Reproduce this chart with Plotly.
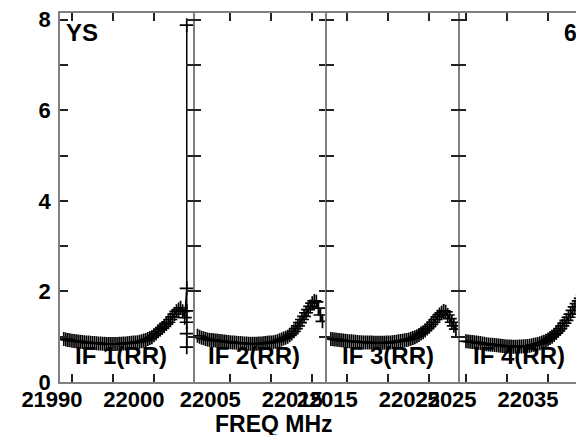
import plotly.graph_objects as go

# channel grid per IF (MHz): first channel frequency, channel spacing
IF_NAMES = ["IF 1(RR)", "IF 2(RR)", "IF 3(RR)", "IF 4(RR)"]
IF_FIRST_FREQ = [21989.0, 22001.0, 22013.0, 22025.0]
CHAN_WIDTH = 0.25

IF1_AMP = [
    0.95, 0.94, 0.93, 0.92, 0.91, 0.905, 0.90, 0.895, 0.89, 0.885,
    0.88, 0.875, 0.87, 0.865, 0.86, 0.86, 0.855, 0.85, 0.85, 0.845,
    0.845, 0.84, 0.84, 0.84, 0.84, 0.84, 0.84, 0.845, 0.845, 0.85,
    0.85, 0.855, 0.86, 0.865, 0.87, 0.875, 0.88, 0.89, 0.90, 0.915,
    0.93, 0.95, 0.97, 0.99, 1.03, 1.07, 1.12, 1.16, 1.19, 1.23,
    1.28, 1.32, 1.38, 1.44, 1.50, 1.56, 1.60, 1.64, 1.56, 1.42,
]
# noisy edge channel of IF 1
IF1_EDGE_FREQ = 22004.0
IF1_EDGE_AMP = [2.07, 7.88, 1.57, 1.32, 1.07, 0.77]

IF2_AMP = [
    1.02, 1.00, 0.98, 0.965, 0.95, 0.94, 0.93, 0.925, 0.92, 0.915,
    0.91, 0.905, 0.90, 0.895, 0.89, 0.885, 0.88, 0.875, 0.87, 0.865,
    0.86, 0.86, 0.855, 0.85, 0.85, 0.845, 0.845, 0.845, 0.845, 0.845,
    0.85, 0.85, 0.855, 0.86, 0.865, 0.87, 0.875, 0.88, 0.89, 0.90,
    0.92, 0.94, 0.96, 0.98, 1.00, 1.03, 1.07, 1.12, 1.18, 1.24,
    1.31, 1.38, 1.45, 1.53, 1.60, 1.67, 1.74, 1.79, 1.77, 1.63,
    1.48, 1.34,
]

IF3_AMP = [
    0.95, 0.945, 0.94, 0.935, 0.93, 0.92, 0.915, 0.91, 0.905, 0.90,
    0.90, 0.895, 0.89, 0.885, 0.88, 0.88, 0.875, 0.875, 0.87, 0.87,
    0.87, 0.865, 0.865, 0.865, 0.865, 0.865, 0.865, 0.87, 0.87, 0.875,
    0.88, 0.885, 0.89, 0.90, 0.905, 0.91, 0.92, 0.93, 0.94, 0.955,
    0.97, 0.99, 1.01, 1.04, 1.07, 1.10, 1.14, 1.18, 1.22, 1.27,
    1.32, 1.38, 1.44, 1.49, 1.53, 1.57, 1.55, 1.48, 1.40, 1.32,
    1.24, 1.17,
]

IF4_AMP = [
    0.90, 0.895, 0.89, 0.885, 0.88, 0.875, 0.865, 0.86, 0.85, 0.845,
    0.835, 0.83, 0.825, 0.82, 0.815, 0.81, 0.805, 0.80, 0.795, 0.79,
    0.785, 0.785, 0.785, 0.78, 0.78, 0.78, 0.785, 0.785, 0.79, 0.79,
    0.795, 0.80, 0.81, 0.82, 0.83, 0.84, 0.855, 0.87, 0.89, 0.91,
    0.94, 0.97, 1.00, 1.04, 1.08, 1.13, 1.18, 1.24, 1.30, 1.36,
    1.43, 1.50, 1.58, 1.66, 1.73, 1.79, 1.85, 1.91, 1.96,
]

# axis ticks per panel (MHz) and labels
X_TICKS = [
    [21990, 21995, 22000],
    [22005, 22010, 22015],
    [22015, 22020, 22025],
    [22025, 22030, 22035],
]
Y_TICKS = [0, 1, 2, 3, 4, 5, 6, 7, 8]
Y_TICK_TEXT = ["0", "", "2", "", "4", "", "6", "", "8"]

# layout of the four panels
X_DOMAINS = [[0.0, 0.2544], [0.2544, 0.5089], [0.5089, 0.7601], [0.7601, 1.0]]
X_RANGES = [
    [21988.54, 22004.80],
    [22000.49, 22016.76],
    [22012.49, 22028.54],
    [22024.06, 22039.39],
]
Y_RANGE = [0, 8.15]

FONT = "Liberation Sans, Arial, Helvetica, sans-serif"
LINE_GREY = "#808080"
TICK_COL = "#222222"

amps = [IF1_AMP, IF2_AMP, IF3_AMP, IF4_AMP]

fig = go.Figure()

for i, vals in enumerate(amps):
    freqs = [IF_FIRST_FREQ[i] + CHAN_WIDTH * k for k in range(len(vals))]
    if i == 0:
        freqs = freqs + [IF1_EDGE_FREQ] * len(IF1_EDGE_AMP)
        vals = vals + IF1_EDGE_AMP
    sfx = "" if i == 0 else str(i + 1)
    fig.add_trace(go.Scatter(
        x=freqs, y=vals,
        xaxis="x" + sfx, yaxis="y" + sfx,
        mode="lines+markers",
        line=dict(color="black", width=1.5),
        marker=dict(symbol="cross-thin", size=10, color="black",
                    line=dict(color="black", width=1.7)),
        showlegend=False,
        hoverinfo="skip",
    ))

# page body has an 8px margin, so the figure is 8px smaller than the window
layout = dict(
    width=576, height=427,
    margin=dict(l=52, r=0, t=5, b=53),
    plot_bgcolor="white", paper_bgcolor="white",
    showlegend=False,
)

tick_font = dict(family=FONT, size=22, color="black", weight="bold")

for i in range(4):
    sfx = "" if i == 0 else str(i + 1)
    xlabels = [str(v) if j % 2 == 0 else "" for j, v in enumerate(X_TICKS[i])]
    layout["xaxis" + sfx] = dict(
        domain=X_DOMAINS[i], range=X_RANGES[i], anchor="y" + sfx,
        tickmode="array", tickvals=X_TICKS[i], ticktext=xlabels,
        ticks="inside", ticklen=8, tickwidth=1.5, tickcolor=TICK_COL,
        showline=True, linecolor=LINE_GREY, linewidth=1.5, mirror="ticks",
        showgrid=False, zeroline=False,
        tickfont=tick_font, ticklabelshift=-20, ticklabelstandoff=-3,
        ticklabeloverflow="allow",
    )
    # panels 1 and 3 draw the vertical frame lines, 2 and 4 only their ticks
    layout["yaxis" + sfx] = dict(
        domain=[0, 1], range=Y_RANGE, anchor="x" + sfx,
        tickmode="array", tickvals=Y_TICKS, ticktext=Y_TICK_TEXT,
        showticklabels=(i == 0),
        ticks="inside", ticklen=8, tickwidth=1.5, tickcolor=TICK_COL,
        showline=(i % 2 == 0), linecolor=LINE_GREY, linewidth=1.5,
        mirror="ticks" if i < 3 else False,
        showgrid=False, zeroline=False,
        tickfont=tick_font, ticklabelstandoff=3,
        ticklabeloverflow="allow",
    )

fig.update_layout(**layout)

annotations = []
for i, name in enumerate(IF_NAMES):
    sfx = "" if i == 0 else str(i + 1)
    annotations.append(dict(
        text=name, xref="x" + sfx + " domain", yref="paper",
        x=0, y=0.073, xanchor="left", yanchor="middle", xshift=13,
        showarrow=False,
        font=dict(family=FONT, size=24, color="black", weight="bold"),
    ))
annotations.append(dict(
    text="YS", xref="paper", yref="paper", x=0.008, y=0.9485,
    xanchor="left", yanchor="middle", showarrow=False,
    font=dict(family=FONT, size=24, color="black", weight="bold"),
))
annotations.append(dict(
    text="6", xref="paper", yref="paper", x=0.974, y=0.947,
    xanchor="center", yanchor="middle", showarrow=False,
    font=dict(family=FONT, size=23, color="black", weight="bold"),
))
annotations.append(dict(
    text="FREQ MHz", xref="paper", yref="paper", x=0.408, y=-0.1125,
    xanchor="center", yanchor="middle", showarrow=False,
    font=dict(family=FONT, size=23, color="black", weight="bold"),
))
fig.update_layout(annotations=annotations)

fig.write_html("out.html")
